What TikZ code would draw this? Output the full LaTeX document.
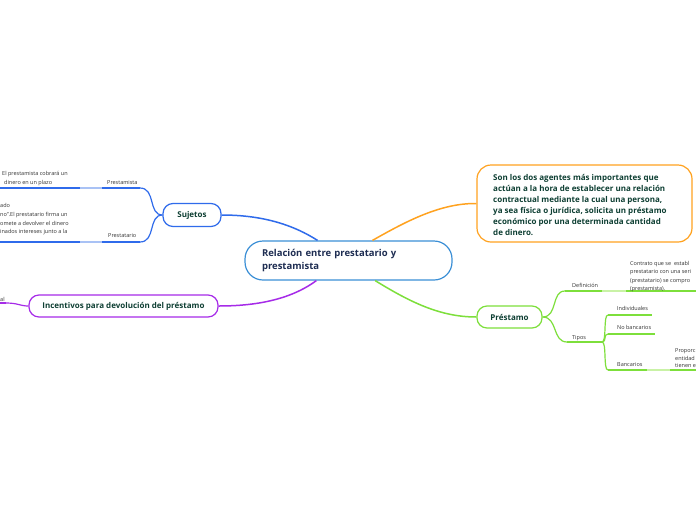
\documentclass[tikz,border=0pt]{standalone}
\usepackage{fontspec}
\setmainfont{Open Sans}
\definecolor{cBlue}{HTML}{2F6BEB}
\definecolor{cBlueL}{HTML}{A9C2F5}
\definecolor{cCen}{HTML}{3B8FD6}
\definecolor{cOr}{HTML}{FFA21F}
\definecolor{cPur}{HTML}{A62BE8}
\definecolor{cGr}{HTML}{7DDF3B}
\definecolor{cGrL}{HTML}{C9F2A6}
\definecolor{cNavy}{HTML}{1E2D52}
\definecolor{cDk}{HTML}{0E3F33}
\definecolor{cTxt}{HTML}{333333}
\begin{document}
\begin{tikzpicture}[x=1pt,y=-1pt,
  topic/.style={draw, fill=white, rounded corners=10pt, line width=1.2pt, inner sep=0pt, text=cDk, font=\fontsize{8}{10}\selectfont\bfseries},
  sm/.style={inner sep=0pt, text=cTxt, font=\fontsize{5.5}{8.5}\selectfont},
  lab/.style={sm, anchor=base west},
  blk/.style={sm, anchor=north west, align=left},
  ul/.style={line width=2pt},
  lt/.style={line width=1.6pt},
  cn/.style={line width=1.2pt},
  mcn/.style={line width=1.5pt},
]
\useasboundingbox (0,0) rectangle (696,520);
\fill[white] (0,0) rectangle (696,520);

% central topic
\node[draw=cCen, fill=white, rounded corners=18pt, line width=1.2pt, minimum width=207pt, minimum height=39pt, text width=173pt, inner xsep=17pt, inner ysep=0pt, align=left, text=cNavy, font=\fontsize{9.5}{13}\selectfont\bfseries] (cen) at (348.5,260.5) {Relación entre prestatario y\\prestamista};

% main topics
\node[topic, draw=cBlue, minimum width=58pt, minimum height=23pt] (suj) at (192,215) {Sujetos};
\node[topic, draw=cPur, minimum width=189pt, minimum height=22pt] (inc) at (123.5,306) {Incentivos para devolución del préstamo};
\node[topic, draw=cGr, minimum width=65pt, minimum height=22pt] (pre) at (509.5,317) {Préstamo};
\node[topic, draw=cOr, rounded corners=14pt, minimum width=215pt, minimum height=77pt] (orb) at (584.5,203.5) {};
\node[anchor=north west, inner sep=0pt, align=left, text=cDk, font=\fontsize{8}{11}\selectfont\bfseries] (ort) at (493,173.8) {Son los dos agentes más importantes que\\actúan a la hora de establecer una relación\\contractual mediante la cual una persona,\\ya sea física o jurídica, solicita un préstamo\\económico por una determinada cantidad\\de dinero.};

% main connectors
\draw[mcn,cBlue] (suj.east) .. controls (265,215) and (295,226) .. (cen.147);
\draw[mcn,cOr] (cen.40) .. controls (405,222) and (440,203) .. (orb.west);
\draw[mcn,cPur] (cen.212) .. controls (290,300) and (255,306) .. (inc.east);
\draw[mcn,cGr] (cen.-37) .. controls (410,302) and (440,317) .. (pre.west);

% Sujetos children
\node[lab] (lpm) at (107,184.5) {Prestamista};
\coordinate (pmA) at (102,188); \coordinate (pmB) at (140,188);
\draw[ul,cBlue] (pmA) -- (pmB);
\draw[cn,cBlue] (suj.west) .. controls (148,215) and (156,188) .. (pmB);
\node[blk] (tpm) at (2,171.4) {El prestamista cobrará un\\\hspace{2pt}dinero en un plazo};
\coordinate (tpmA) at (0,188); \coordinate (tpmB) at (80,188);
\draw[ul,cBlue] (tpmA) -- (tpmB);
\draw[lt,cBlueL] (tpmB) -- (pmA);

\node[lab] (lpt) at (108,237.5) {Prestatario};
\coordinate (ptA) at (102,242); \coordinate (ptB) at (140,242);
\draw[ul,cBlue] (ptA) -- (ptB);
\draw[cn,cBlue] (suj.west) .. controls (148,215) and (156,242) .. (ptB);
\node[blk, font=\fontsize{5.5}{8.7}\selectfont] (tpt) at (0,203.4) {ado\\no".El prestatario firma un\\omete a devolver el dinero\\inados intereses junto a la};
\coordinate (tptA) at (0,242); \coordinate (tptB) at (80,242);
\draw[ul,cBlue] (tptA) -- (tptB);
\draw[lt,cBlueL] (tptB) -- (ptA);

% Incentivos child
\node[lab] (lal) at (0,301.5) {al};
\coordinate (alA) at (0,303); \coordinate (alB) at (6,303);
\draw[ul,cPur] (alA) -- (alB);
\draw[cn,cPur] (alB) .. controls (18,303) and (20,306) .. (inc.west);

% Prestamo children
\node[lab] (ldef) at (572,287.5) {Definición};
\coordinate (defA) at (565,291); \coordinate (defB) at (602,291);
\draw[ul,cGr] (defA) -- (defB);
\draw[cn,cGr] (pre.east) .. controls (558,317) and (551,291) .. (defA);
\coordinate (dtA) at (626,291); \coordinate (dtB) at (696,291);
\draw[lt,cGrL] (defB) -- (dtA);
\draw[ul,cGr] (dtA) -- (dtB);
\node[blk, font=\fontsize{5.5}{8.2}\selectfont] (tdef) at (630,261.4) {Contrato que se \ establ\\prestatario con una seri\\(prestatario) se compro\\(prestamista).};

\node[lab] (ltip) at (572,339.5) {Tipos};
\coordinate (tipA) at (567,342); \coordinate (tipB) at (602,342);
\draw[ul,cGr] (tipA) -- (tipB);
\draw[cn,cGr] (pre.east) .. controls (558,317) and (552,342) .. (tipA);

\node[lab] (lind) at (617,310.5) {Individuales};
\coordinate (indA) at (608,315); \coordinate (indB) at (652,315);
\draw[ul,cGr] (indA) -- (indB);
\draw[cn,cGr] (tipB) .. controls (607,342) and (603,315) .. (indA);

\node[lab] (lnb) at (617,329.5) {No bancarios};
\coordinate (nbA) at (608,334); \coordinate (nbB) at (655,334);
\draw[ul,cGr] (nbA) -- (nbB);
\draw[cn,cGr] (tipB) .. controls (607,342) and (603,334) .. (nbA);

\node[lab] (lban) at (617,366.5) {Bancarios};
\coordinate (baA) at (608,370); \coordinate (baB) at (647,370);
\draw[ul,cGr] (baA) -- (baB);
\draw[cn,cGr] (tipB) .. controls (607,342) and (603,370) .. (baA);
\coordinate (btA) at (670,370); \coordinate (btB) at (696,370);
\draw[lt,cGrL] (baB) -- (btA);
\draw[ul,cGr] (btA) -- (btB);
\node[blk, font=\fontsize{5.5}{7.5}\selectfont] (tban) at (675,348.6) {Proporc\\entidad\\tienen e};
\end{tikzpicture}
\end{document}
